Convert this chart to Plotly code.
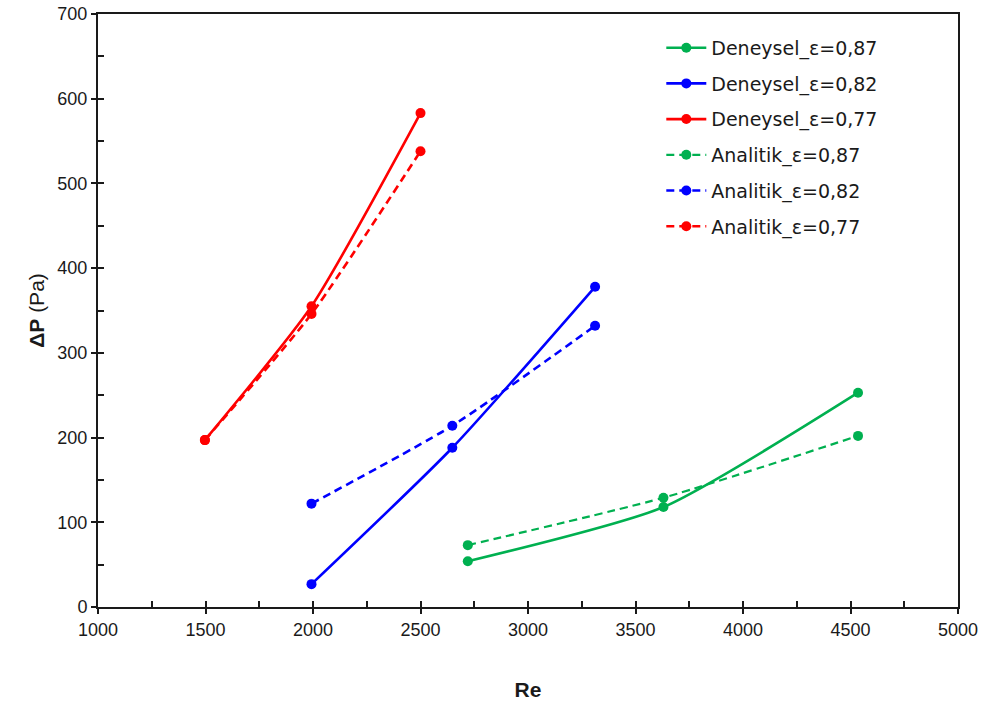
import plotly.graph_objects as go

# Data
re_087 = [2720, 3630, 4535]
re_082 = [1993, 2648, 3312]
re_077 = [1497, 1993, 2500]

dp_den_087 = [54, 118, 253]
dp_den_082 = [27, 188, 378]
dp_den_077 = [197, 355, 583]

dp_ana_087 = [73, 129, 202]
dp_ana_082 = [122, 214, 332]
dp_ana_077 = [197, 346, 538]

names_den = ["Deneysel_ε=0,87", "Deneysel_ε=0,82", "Deneysel_ε=0,77"]
names_ana = ["Analitik_ε=0,87", "Analitik_ε=0,82", "Analitik_ε=0,77"]

GREEN = "#00B050"
BLUE = "#0000FF"
RED = "#FF0000"

fig = go.Figure()

series = [
    (re_087, dp_den_087, names_den[0], GREEN, "solid", 2.6),
    (re_082, dp_den_082, names_den[1], BLUE, "solid", 2.6),
    (re_077, dp_den_077, names_den[2], RED, "solid", 2.6),
    (re_087, dp_ana_087, names_ana[0], GREEN, "8px,5px", 2.2),
    (re_082, dp_ana_082, names_ana[1], BLUE, "8px,5px", 2.6),
    (re_077, dp_ana_077, names_ana[2], RED, "8px,5px", 2.6),
]

for i, (x, y, name, col, dash, w) in enumerate(series):
    fig.add_trace(go.Scatter(
        x=x, y=y, name=name, mode="lines+markers",
        line=dict(color=col, width=w, dash=dash, shape="spline", smoothing=0.6),
        marker=dict(color=col, size=10),
        legendgroup=f"g{i}",
    ))

# invisible trace on overlay axes to draw inside ticks
fig.add_trace(go.Scatter(x=[1000], y=[0], xaxis="x2", yaxis="y2",
                         mode="markers", marker=dict(opacity=0),
                         showlegend=False, hoverinfo="skip"))

FONT = "Liberation Sans, Arial, sans-serif"
axis_font = dict(family=FONT, size=18, color="#1a1a1a")

fig.update_layout(
    width=991, height=709,
    paper_bgcolor="white", plot_bgcolor="white",
    margin=dict(l=98, r=33, t=14, b=102, autoexpand=False),
    font=dict(family=FONT, color="#1a1a1a"),
    xaxis=dict(
        range=[1000, 5000], dtick=500, tick0=1000,
        showgrid=False, zeroline=False, automargin=False,
        showline=True, linecolor="#1a1a1a", linewidth=2, mirror=True,
        ticks="outside", ticklen=5, tickwidth=1.5, tickcolor="#1a1a1a",
        tickfont=axis_font,
        title=dict(text="<b>Re</b>", font=dict(family=FONT, size=21, color="#1a1a1a"), standoff=44),
    ),
    yaxis=dict(
        range=[0, 700], dtick=100, tick0=0,
        showgrid=False, zeroline=False, automargin=False,
        showline=True, linecolor="#1a1a1a", linewidth=2, mirror=True,
        ticks="outside", ticklen=5, tickwidth=1.5, tickcolor="#1a1a1a",
        tickfont=axis_font,
        title=dict(text="<b>ΔP</b> (Pa)", font=dict(family=FONT, size=21, color="#1a1a1a"), standoff=7),
    ),
    xaxis2=dict(
        range=[1000, 5000], dtick=250, tick0=1000, overlaying="x",
        showgrid=False, zeroline=False, showline=False, showticklabels=False,
        ticks="inside", ticklen=6, tickwidth=1.5, tickcolor="#1a1a1a",
    ),
    yaxis2=dict(
        range=[0, 700], dtick=50, tick0=0, overlaying="y",
        showgrid=False, zeroline=False, showline=False, showticklabels=False,
        ticks="inside", ticklen=6, tickwidth=1.5, tickcolor="#1a1a1a",
    ),
    legend=dict(
        x=0.655, y=0.975, xanchor="left", yanchor="top",
        bgcolor="rgba(255,255,255,0)",
        font=dict(family="DejaVu Sans, sans-serif", size=19, color="#1a1a1a"),
        tracegroupgap=8,
        itemwidth=40,
    ),
    showlegend=True,
)

fig.write_html("out.html", config={"displayModeBar": False},
               post_script="document.body.style.margin='0';")
